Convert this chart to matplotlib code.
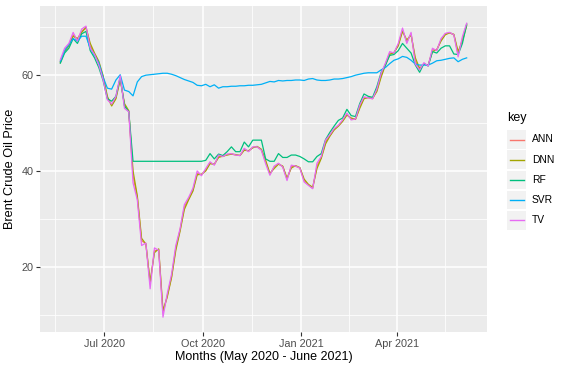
import pandas as pd
import matplotlib
matplotlib.use("Agg")
import matplotlib.pyplot as plt
import matplotlib.dates as mdates
from matplotlib.patches import Rectangle
from matplotlib.lines import Line2D

plt.rcParams["font.family"] = ["Liberation Sans", "DejaVu Sans"]

# sampled every 4 days, 2020-05-21 .. 2021-06-05
dates = pd.date_range("2020-05-21", periods=96, freq="4D")

tv = [63.1, 65.5, 66.5, 68.8, 67.0, 69.5, 70.1, 65.5, 64.2, 62.0,
      59.0, 54.8, 53.9, 55.5, 59.8, 53.0, 52.3, 37.5, 34.0, 24.5,
      25.0, 15.5, 24.0, 23.5, 9.6, 14.5, 18.5, 24.5, 28.0, 33.0,
      34.5, 36.4, 40.0, 39.0, 40.5, 41.9, 41.2, 43.3, 43.0, 43.5,
      43.6, 43.3, 43.2, 44.7, 44.0, 45.0, 45.0, 44.3, 41.5, 39.1,
      41.0, 41.6, 40.8, 38.0, 41.2, 41.0, 40.6, 37.7, 37.0, 36.3,
      41.6, 43.0, 46.4, 47.5, 48.8, 49.5, 50.6, 52.0, 50.6, 50.8,
      53.7, 55.4, 55.2, 55.0, 57.0, 60.3, 62.4, 64.8, 64.5, 66.5,
      69.7, 66.5, 68.8, 62.2, 61.0, 62.5, 61.8, 65.5, 65.0, 67.5,
      68.6, 68.8, 68.3, 63.7, 67.9, 70.7]

dnn = [62.5, 64.8, 66.0, 68.0, 67.5, 68.8, 69.8, 66.5, 64.5, 62.8,
       59.8, 55.5, 53.5, 55.0, 59.0, 54.0, 52.5, 40.0, 34.8, 26.0,
       24.8, 17.0, 23.0, 23.8, 11.0, 13.8, 17.8, 23.5, 27.5, 32.0,
       34.0, 35.8, 39.2, 39.3, 40.0, 41.5, 41.4, 42.8, 43.1, 43.3,
       43.5, 43.4, 43.2, 44.3, 44.2, 44.8, 45.1, 44.5, 42.2, 39.5,
       40.5, 41.4, 41.0, 38.5, 40.6, 41.1, 40.7, 38.3, 37.2, 36.6,
       40.5, 42.6, 45.6, 47.2, 48.5, 49.3, 50.3, 51.6, 51.0, 50.7,
       53.0, 55.0, 55.3, 55.1, 56.5, 59.5, 62.0, 64.2, 64.6, 66.0,
       69.0, 67.2, 68.3, 63.5, 61.3, 62.2, 62.0, 64.8, 65.2, 67.0,
       68.3, 68.7, 68.4, 64.8, 67.0, 70.2]

ann = [62.8, 65.0, 66.2, 68.3, 67.3, 69.0, 69.9, 66.0, 64.3, 62.5,
       59.5, 55.2, 53.7, 55.2, 59.3, 53.6, 52.4, 39.0, 34.5, 25.5,
       24.9, 16.5, 23.4, 23.6, 10.5, 14.0, 18.0, 24.0, 27.8, 32.5,
       34.2, 36.0, 39.5, 39.2, 40.2, 41.7, 41.3, 43.0, 43.0, 43.4,
       43.5, 43.3, 43.2, 44.5, 44.1, 44.9, 45.0, 44.4, 41.9, 39.3,
       40.8, 41.5, 40.9, 38.3, 40.9, 41.0, 40.6, 38.0, 37.1, 36.4,
       41.0, 42.8, 46.0, 47.3, 48.6, 49.4, 50.4, 51.8, 50.8, 50.8,
       53.3, 55.2, 55.2, 55.0, 56.8, 59.8, 62.2, 64.5, 64.5, 66.2,
       69.3, 66.8, 68.5, 62.8, 61.2, 62.3, 61.9, 65.2, 65.1, 67.2,
       68.5, 68.7, 68.3, 64.2, 67.5, 70.5]

rf = [62.4, 64.5, 65.5, 67.5, 66.5, 68.5, 69.0, 65.0, 63.5, 61.5,
      58.8, 55.0, 54.5, 55.5, 59.5, 53.5, 52.3, 42.0, 42.0, 42.0,
      42.0, 42.0, 42.0, 42.0, 42.0, 42.0, 42.0, 42.0, 42.0, 42.0,
      42.0, 42.0, 42.0, 42.0, 42.2, 43.6, 42.5, 43.5, 43.2, 44.0,
      45.0, 44.0, 44.0, 46.0, 45.0, 46.4, 46.4, 46.4, 42.5, 42.0,
      42.0, 43.6, 42.8, 42.8, 43.3, 43.3, 43.0, 42.5, 41.9, 41.9,
      43.0, 43.6, 46.5, 48.0, 49.3, 50.5, 51.0, 52.8, 51.5, 51.3,
      54.0, 56.0, 55.5, 55.3, 57.5, 60.5, 62.0, 64.0, 64.2, 65.0,
      66.5, 65.5, 64.5, 62.0, 60.5, 62.3, 61.8, 64.8, 64.5, 65.5,
      66.0, 66.0, 64.3, 64.2, 66.5, 70.5]

svr = [62.8, 65.0, 66.3, 67.5, 67.0, 68.0, 68.0, 65.5, 64.0, 62.5,
       59.5, 57.2, 57.0, 58.9, 60.0, 56.8, 56.5, 55.6, 58.5, 59.6,
       59.9, 60.0, 60.1, 60.2, 60.3, 60.3, 60.1, 59.8, 59.4, 59.0,
       58.7, 58.4, 57.8, 57.7, 58.0, 57.5, 57.9, 57.2, 57.5, 57.5,
       57.6, 57.6, 57.7, 57.7, 57.8, 57.8, 57.9, 58.0, 58.3, 58.6,
       58.5, 58.8, 58.7, 58.8, 58.8, 58.9, 58.9, 58.8, 59.1, 59.2,
       58.9, 58.8, 58.8, 58.9, 59.1, 59.1, 59.2, 59.4, 59.6, 59.9,
       60.1, 60.3, 60.4, 60.4, 60.4, 61.0, 61.5, 62.3, 63.0, 63.3,
       63.8, 63.6, 63.0, 62.2, 62.0, 62.0, 62.0, 62.4, 62.9, 63.0,
       63.2, 63.4, 63.5, 62.7, 63.2, 63.5]

keys = ["ANN", "DNN", "RF", "SVR", "TV"]
series = [ann, dnn, rf, svr, tv]
colors = ["#F8766D", "#A3A500", "#00BF7D", "#00B0F6", "#E76BF3"]

W, H = 569, 372
fig = plt.figure(figsize=(W / 100, H / 100), dpi=100)
ax = fig.add_axes([40 / W, 1 - 332 / H, 447 / W, 326 / H])
ax.set_facecolor("#EBEBEB")

for vals, col in zip(series, colors):
    ax.plot(dates, vals, color=col, lw=0.9)

# ggplot-style expansion of 5%
x0, x1 = mdates.date2num(dates[0]), mdates.date2num(dates[-1])
pad = (x1 - x0) * 0.05
ax.set_xlim(x0 - pad, x1 + pad)
lo, hi = 9.6, 71.2
ax.set_ylim(lo - (hi - lo) * 0.05, hi + (hi - lo) * 0.05)

major = pd.to_datetime(["2020-07-01", "2020-10-01", "2021-01-01", "2021-04-01"])
minor = pd.to_datetime(["2020-05-16", "2020-08-16", "2020-11-16", "2021-02-15", "2021-05-16"])
ax.set_xticks(major)
ax.set_xticklabels(["Jul 2020", "Oct 2020", "Jan 2021", "Apr 2021"])
ax.set_xticks(minor, minor=True)
ax.set_yticks([20, 40, 60])
ax.set_yticks([10, 30, 50, 70], minor=True)

ax.grid(which="major", color="white", lw=1.1)
ax.grid(which="minor", color="white", lw=0.55)
ax.set_axisbelow(True)
for s in ax.spines.values():
    s.set_visible(False)
ax.tick_params(which="major", length=2.75, width=0.8, color="#333333",
               labelsize=7.8, labelcolor="#4D4D4D", pad=2)
ax.tick_params(which="minor", length=0)

ax.set_xlabel("Months (May 2020 - June 2021)", fontsize=9, labelpad=1.5)
ax.set_ylabel("Brent Crude Oil Price", fontsize=9.2, labelpad=4)

# legend drawn by hand (grey key boxes like ggplot)
fig.text(507 / W, 1 - 118 / H, "key", fontsize=9, va="center", ha="left")
for i, (k, col) in enumerate(zip(keys, colors)):
    cy = 139.5 + i * 20.2
    fig.add_artist(Rectangle((507.5 / W, 1 - (cy + 9.3) / H), 18.5 / W, 18.6 / H,
                             transform=fig.transFigure, facecolor="#F2F2F2",
                             edgecolor="none"))
    fig.add_artist(Line2D([509.5 / W, 524 / W], [1 - cy / H, 1 - cy / H],
                          transform=fig.transFigure, color=col, lw=1.0))
    fig.text(532 / W, 1 - cy / H, k, fontsize=7.4, va="center", ha="left")

fig.savefig("out.png", dpi=100, facecolor="white")
